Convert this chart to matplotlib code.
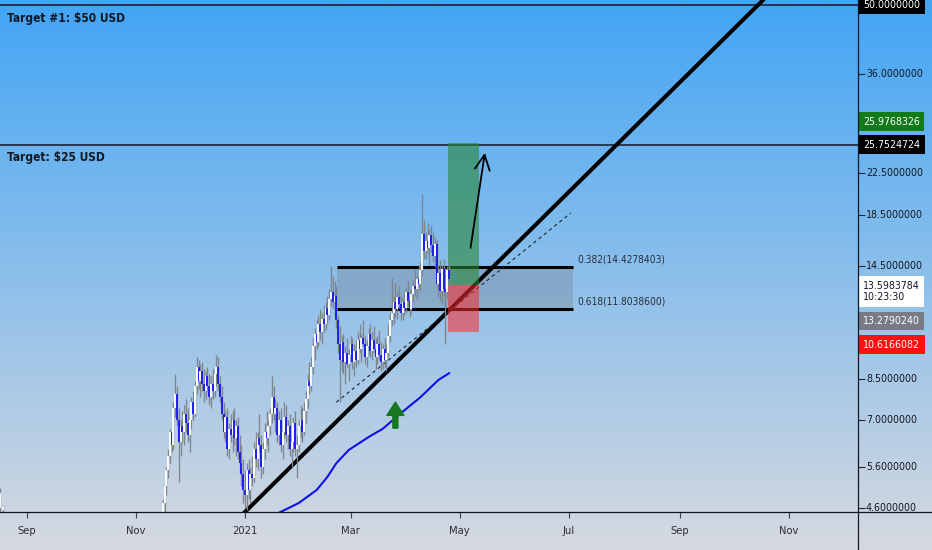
import numpy as np
import pandas as pd
import matplotlib
matplotlib.use('Agg')
import matplotlib.pyplot as plt
import matplotlib.dates as mdates
import matplotlib.transforms as mtransforms
from matplotlib.lines import Line2D
from matplotlib.ticker import NullLocator
from matplotlib import font_manager as fm

# pick a narrow face if the box has one, else plain Liberation Sans a bit smaller
narrow = [f for f in fm.fontManager.ttflist
          if 'narrow' in f.name.lower() or 'condensed' in f.name.lower()
          or f.stretch in ('condensed', 'semi-condensed', 'extra-condensed')]
if narrow:
    plt.rcParams['font.family'] = [narrow[0].name, 'DejaVu Sans']
    plt.rcParams['font.stretch'] = narrow[0].stretch
    fs = 1.0
else:
    plt.rcParams['font.family'] = ['Liberation Sans', 'DejaVu Sans']
    fs = 0.9

# ---- daily candles, first one on 2020-11-16 ----
start = '2020-11-16'
opens = [4.40, 4.70, 5.10, 5.50, 5.90, 6.60, 6.20, 7.40, 7.90, 7.00, 6.30, 6.80, 6.60, 7.20, 6.90,
         6.50, 7.00, 7.60, 7.20, 8.20, 9.00, 8.40, 8.80, 8.30, 8.00, 8.60, 8.20, 7.80, 8.30, 8.00, 8.70,
         9.00, 8.30, 7.80, 7.20, 6.60, 7.10, 6.10, 6.70, 6.50, 7.00, 6.40, 6.80, 6.00, 5.70, 5.40,
         5.00, 4.90, 5.50, 5.00, 5.40, 5.30, 6.10, 5.80, 6.40, 6.20, 5.60, 6.10, 6.60, 6.40, 6.80, 7.20,
         7.80, 7.20, 7.40, 6.50, 7.00, 6.20, 6.60, 7.10, 6.50, 6.80, 6.10, 6.30, 6.90, 6.10, 6.20,
         6.80, 7.00, 6.60, 7.30, 7.70, 8.40, 8.20, 9.00, 9.90, 10.50, 10.10, 11.00, 10.60, 11.30, 11.00,
         11.90, 11.50, 12.40, 12.80, 12.20, 12.60, 11.20, 10.00, 9.30, 10.10, 9.20, 9.60, 9.10,
         9.5, 10.0, 9.2, 9.7, 9.3, 10.2, 9.8, 10.3, 10.0, 9.4, 9.9, 10.5, 9.7, 10.2, 9.8, 9.4, 10.0,
         9.5, 9.2, 9.8, 9.3, 9.6, 10.4, 11.2, 11.6, 12.2, 11.8, 12.5, 12.1, 11.6, 12.2,
         11.9, 12.8, 12.3, 11.8, 12.7, 13.2, 13.0, 13.6, 13.3, 14.2, 16.9, 15.6, 16.3, 15.8, 16.8, 16.0,
         15.2, 16.1, 13.3, 14.0, 12.9, 14.3, 13.0, 12.8, 14.2]
highs = [4.80, 5.20, 5.60, 6.10, 6.70, 6.90, 7.60, 8.70, 8.20, 7.40, 7.00, 7.30, 7.50, 7.70, 7.40,
         7.20, 7.80, 8.00, 8.40, 9.40, 9.30, 9.10, 9.20, 8.90, 8.80, 9.00, 8.70, 8.60, 8.90, 9.00, 9.50,
         9.40, 8.60, 8.20, 7.60, 7.30, 7.40, 6.90, 7.20, 7.30, 7.40, 7.00, 7.10, 6.50, 6.20, 5.80,
         5.50, 5.70, 5.80, 5.60, 5.90, 6.30, 6.60, 6.60, 7.20, 6.50, 6.30, 6.90, 7.30, 7.00, 7.40, 8.60,
         8.20, 7.70, 7.60, 7.30, 7.40, 6.90, 7.60, 7.50, 7.00, 7.20, 6.60, 7.10, 7.30, 6.50, 7.00,
         7.50, 7.40, 7.60, 8.00, 8.70, 9.20, 9.40, 10.30, 10.80, 11.20, 11.50, 11.80, 11.60, 12.00, 12.20,
         12.60, 13.00, 14.50, 13.80, 13.50, 13.20, 11.50, 10.90, 10.40, 10.50, 9.90, 10.30, 9.80,
         10.4, 10.3, 10.0, 10.2, 10.6, 11.0, 10.5, 11.2, 10.4, 10.2, 10.8, 11.0, 10.6, 10.9, 10.3, 10.4,
         10.7, 10.1, 10.0, 10.3, 10.0, 11.0, 11.6, 13.7, 12.6, 13.4, 12.8, 13.2, 12.6, 12.4, 12.9,
         13.1, 13.5, 12.9, 13.0, 13.6, 14.2, 13.9, 14.6, 14.8, 20.4, 18.0, 17.0, 17.8, 17.3, 17.6, 17.0,
         16.6, 16.4, 14.6, 14.9, 14.6, 15.0, 14.2, 14.5, 14.7]
lows = [4.30, 4.50, 4.90, 5.30, 5.70, 6.00, 6.10, 7.10, 6.80, 5.20, 5.90, 6.30, 6.20, 6.60, 6.30,
        6.00, 6.70, 7.00, 7.10, 7.90, 8.10, 7.80, 8.00, 7.60, 7.70, 8.00, 7.50, 7.40, 7.70, 7.80, 8.20,
        8.00, 7.60, 7.00, 6.40, 6.30, 5.90, 5.80, 6.30, 6.00, 6.20, 5.90, 5.80, 5.40, 5.10, 4.70,
        4.60, 4.55, 4.80, 4.70, 5.10, 5.20, 5.60, 5.50, 6.00, 5.30, 5.40, 5.80, 6.20, 6.00, 6.50, 6.90,
        7.00, 6.60, 6.30, 6.20, 6.00, 5.80, 6.40, 6.30, 6.10, 5.90, 5.60, 6.00, 5.90, 5.30, 6.00,
        6.40, 6.30, 6.50, 6.90, 7.40, 7.90, 8.00, 8.70, 9.30, 9.80, 9.90, 10.20, 10.00, 10.60, 10.70,
        11.00, 11.20, 12.00, 11.90, 11.40, 10.80, 9.60, 7.60, 8.80, 8.70, 8.30, 9.00, 8.40,
        9.2, 8.9, 8.6, 9.0, 9.1, 9.6, 9.2, 9.9, 9.1, 9.0, 9.5, 9.4, 9.3, 9.6, 8.9, 9.1,
        9.3, 8.8, 8.9, 9.0, 8.8, 9.4, 10.1, 10.9, 11.0, 11.4, 11.3, 11.9, 11.2, 11.2, 11.5,
        11.6, 12.0, 11.4, 11.6, 12.2, 12.6, 12.4, 13.1, 12.9, 13.8, 15.0, 15.0, 15.4, 14.6, 15.5, 14.8,
        14.4, 13.0, 12.5, 12.3, 12.1, 12.6, 10.0, 12.4, 13.2]
closes = [4.70, 5.10, 5.50, 5.90, 6.60, 6.20, 7.40, 7.90, 7.00, 6.30, 6.80, 6.60, 7.20, 6.90, 6.50,
          7.00, 7.60, 7.20, 8.20, 9.00, 8.40, 8.80, 8.30, 8.00, 8.60, 8.20, 7.80, 8.30, 8.00, 8.70, 9.00,
          8.30, 7.80, 7.20, 6.60, 7.10, 6.10, 6.70, 6.50, 7.00, 6.40, 6.80, 6.00, 5.70, 5.40, 5.00,
          4.90, 5.50, 5.00, 5.40, 5.30, 6.10, 5.80, 6.40, 6.20, 5.60, 6.10, 6.60, 6.40, 6.80, 7.20, 7.80,
          7.20, 7.40, 6.50, 7.00, 6.20, 6.60, 7.10, 6.50, 6.80, 6.10, 6.30, 6.90, 6.10, 6.20, 6.80,
          7.00, 6.60, 7.30, 7.70, 8.40, 8.20, 9.00, 9.90, 10.50, 10.10, 11.00, 10.60, 11.30, 11.00, 11.90,
          11.50, 12.40, 12.80, 12.20, 12.60, 11.20, 10.00, 9.30, 10.10, 9.20, 9.60, 9.10, 9.50,
          10.0, 9.2, 9.7, 9.3, 10.2, 9.8, 10.3, 10.0, 9.4, 9.9, 10.5, 9.7, 10.2, 9.8, 9.4, 10.0,
          9.5, 9.2, 9.8, 9.3, 9.6, 10.4, 11.2, 11.6, 12.2, 11.8, 12.5, 12.1, 11.6, 12.2, 11.9,
          12.8, 12.3, 11.8, 12.7, 13.2, 13.0, 13.6, 13.3, 14.2, 16.9, 15.6, 16.3, 15.8, 16.8, 16.0, 15.2,
          16.1, 13.3, 14.0, 12.9, 14.3, 13.0, 12.8, 14.2, 13.6]

# two stray candles at the far left edge
early_dates = ['2020-08-17', '2020-08-19']
early_open = [4.95, 4.55]
early_high = [5.06, 4.64]
early_low = [4.40, 4.30]
early_close = [4.60, 4.62]

# blue moving average
ma_dates = ['2021-01-19', '2021-01-31', '2021-02-10', '2021-02-16', '2021-02-21', '2021-02-28',
            '2021-03-11', '2021-03-19', '2021-03-29', '2021-04-09', '2021-04-19', '2021-04-25']
ma_vals = [4.48, 4.71, 5.01, 5.33, 5.69, 6.06, 6.44, 6.70, 7.21, 7.78, 8.44, 8.72]

# drawings
trend_dates = ['2020-12-30', '2021-10-20']
trend_vals = [4.44, 52.3]
dash_dates = ['2021-02-21', '2021-07-02']
dash_vals = [7.60, 18.64]
fib_span = ['2021-02-21 10:00', '2021-07-03 05:00']
fib_levels = [14.4278403, 11.8038600]
fib_names = ['0.382', '0.618']
pos_span = ['2021-04-24 10:00', '2021-05-11 16:00']
target, entry, stop = 25.9768326, 13.2790240, 10.6166082
last_price = 13.5983784
countdown = '10:23:30'
target_lines = [50.0, 25.7524724]
target_texts = ['Target #1: $50 USD', 'Target: $25 USD']
arrow_tail = ('2021-05-07', 15.8)
arrow_head = ('2021-05-15', 24.8)
up_arrow_date = '2021-03-26'
up_arrow_lo, up_arrow_hi = 6.72, 7.60

price_ticks = [36.0, 22.5, 18.5, 14.5, 8.5, 7.0, 5.6, 4.6]
month_ticks = ['2020-09-01', '2020-11-01', '2021-01-01', '2021-03-01',
               '2021-05-01', '2021-07-01', '2021-09-01', '2021-11-01']
month_labels = ['Sep', 'Nov', '2021', 'Mar', 'May', 'Jul', 'Sep', 'Nov']


def d(s):
    return mdates.date2num(pd.Timestamp(s))


W, H = 932, 550
fig = plt.figure(figsize=(W / 100, H / 100), dpi=100)

# background gradient over the whole picture
bg = fig.add_axes([0, 0, 1, 1], zorder=-10)
top = np.array([66, 165, 245]) / 255
bot = np.array([214, 217, 224]) / 255
t = np.linspace(0, 1, 256)[:, None, None]
bg.imshow(top + (bot - top) * t, aspect='auto', extent=[0, 1, 0, 1], interpolation='bilinear')
bg.axis('off')

PX, PY = 858 / W, 38 / H
ax = fig.add_axes([0, PY, PX, 1 - PY])
ax.set_facecolor('none')
ax.set_yscale('log')
ax.set_ylim(4.514, 51.2)
ax.set_xlim(d('2020-08-17 02:00'), d('2021-12-09 12:00'))
for s in ax.spines.values():
    s.set_visible(False)

ax.set_xticks([d(m) for m in month_ticks])
ax.set_xticklabels(month_labels)
ax.tick_params(axis='x', length=4, width=0.8, color='#3a3f4a', pad=6,
               labelsize=8.0 * fs, labelcolor='#2a2e39')
ax.yaxis.set_minor_locator(NullLocator())
ax.yaxis.tick_right()
ax.set_yticks(price_ticks + target_lines)
ax.set_yticklabels([])
ax.tick_params(axis='y', length=5, width=0.8, color='#1c2733')

# target lines and texts
for v, txt in zip(target_lines, target_texts):
    ax.axhline(v, color='#1b2433', lw=1.2, zorder=3)
    ax.annotate(txt, xy=(0, v), xycoords=ax.get_yaxis_transform(), xytext=(7, -13),
                textcoords='offset pixels', ha='left', va='center', fontsize=8.6 * fs,
                fontweight='bold', color='#131722')

# fib zone
f0, f1 = d(fib_span[0]), d(fib_span[1])
ax.fill_between([f0, f1], fib_levels[1], fib_levels[0], color='#7d8ea2', alpha=0.45, lw=0, zorder=2)
ax.hlines(fib_levels, f0, f1, color='black', lw=2.2, zorder=4)
for name, lvl in zip(fib_names, fib_levels):
    ax.annotate(f'{name}({lvl:.7f})', xy=(f1, lvl), xytext=(4, 8), textcoords='offset pixels',
                ha='left', va='center', fontsize=7.3 * fs, color='#2a2e39')

# trend lines
ax.plot([d(x) for x in trend_dates], trend_vals, color='black', lw=2.9,
        solid_capstyle='butt', zorder=4)
ax.plot([d(x) for x in dash_dates], dash_vals, color='#1b2433', lw=0.8,
        dashes=(3, 3), zorder=4)

# moving average
ax.plot([d(x) for x in ma_dates], ma_vals, color='#1010e8', lw=1.5, zorder=4)

# candles
x = mdates.date2num(pd.date_range(start, periods=len(closes), freq='D'))
o, h, l, c = map(np.array, (opens, highs, lows, closes))
ax.vlines(x, l, h, color='#7e858e', lw=0.95, zorder=6)
cols = np.where(c >= o, '#ffffff', '#1a1af0')
ax.vlines(x, np.minimum(o, c), np.maximum(o, c), colors=cols, lw=1.35, zorder=7)
ex = [d(s) for s in early_dates]
ax.vlines(ex, early_low, early_high, color='#7e858e', lw=0.95, zorder=6)
ax.vlines(ex, np.minimum(early_open, early_close), np.maximum(early_open, early_close),
          colors='#ffffff', lw=1.35, zorder=7)

# long position
p0, p1 = d(pos_span[0]), d(pos_span[1])
ax.fill_between([p0, p1], entry, target, color=(0.16, 0.53, 0.22), alpha=0.6, lw=0, zorder=5)
ax.fill_between([p0, p1], stop, entry, color=(1.0, 0.16, 0.16), alpha=0.55, lw=0, zorder=5)

# arrows
ax.annotate('', xy=(d(arrow_head[0]), arrow_head[1]), xytext=(d(arrow_tail[0]), arrow_tail[1]),
            arrowprops=dict(arrowstyle='->,head_length=0.9,head_width=0.45', color='black',
                            lw=1.3, shrinkA=0, shrinkB=0, mutation_scale=12), zorder=8)
ax.annotate('', xy=(d(up_arrow_date), up_arrow_hi), xytext=(d(up_arrow_date), up_arrow_lo),
            arrowprops=dict(arrowstyle='simple,head_length=0.95,head_width=1.22,tail_width=0.36',
                            fc='#17771f', ec='#17771f', shrinkA=0, shrinkB=0, mutation_scale=10),
            zorder=8)

# axis border lines
fig.add_artist(Line2D([PX, PX], [0, 1], transform=fig.transFigure, color='#131722', lw=0.9))
fig.add_artist(Line2D([0, 1], [PY, PY], transform=fig.transFigure, color='#131722', lw=0.9))

# price scale labels
pax = fig.add_axes([PX, PY, 1 - PX, 1 - PY])
pax.set_yscale('log')
pax.set_ylim(ax.get_ylim())
pax.set_xlim(0, 1)
pax.axis('off')
for p in price_ticks:
    pax.text(0.108, p, f'{p:.7f}', ha='left', va='center', fontsize=7.6 * fs,
             color='#131722', clip_on=True, zorder=2)


def box_label(price, text, fc, tc, dy):
    tr = pax.transData + mtransforms.ScaledTranslation(0, dy / 100, fig.dpi_scale_trans)
    pax.text(0.07, price, text, transform=tr, ha='left', va='center', fontsize=7.6 * fs, color=tc,
             bbox=dict(boxstyle='square,pad=0.42', fc=fc, ec='none'), clip_on=True, zorder=5)


box_label(target_lines[0], f'{target_lines[0]:.7f}', '#000000', 'white', 0)
box_label(target, f'{target:.7f}', '#137a1c', 'white', 21.5)
box_label(target_lines[1], f'{target_lines[1]:.7f}', '#000000', 'white', 0)
box_label(last_price, f'{last_price:.7f}\n{countdown}', '#ffffff', '#131722', -12)
box_label(entry, f'{entry:.7f}', '#787b86', 'white', -36.5)
box_label(stop, f'{stop:.7f}', '#ff1010', 'white', -13)

fig.savefig('out.png', dpi=100)
